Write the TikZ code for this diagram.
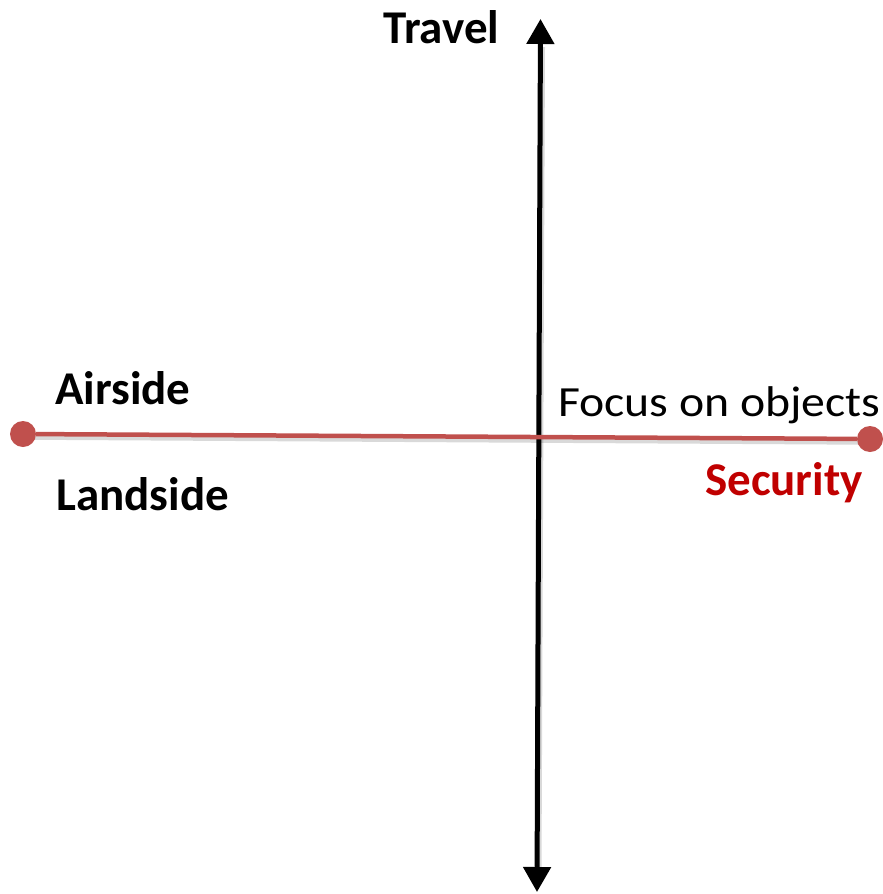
\documentclass[tikz,border=0pt]{standalone}
\usepackage{fontspec}
\setmainfont{Carlito}
\usetikzlibrary{arrows.meta}
\definecolor{axred}{HTML}{C0504D}
\definecolor{secred}{HTML}{C00000}
\tikzset{
  lbl/.style={anchor=base west, inner sep=0pt, font=\fontsize{47}{50}\selectfont\bfseries},
  dotend/.style={circle, fill=axred, inner sep=0pt, minimum size=26pt},
  shade/.style={black, opacity=0.15}
}
\begin{document}
\begin{tikzpicture}[x=1pt,y=-1pt]
\useasboundingbox (0,0) rectangle (883,894);
% vertical axis
\coordinate (top) at (540.5,19);
\coordinate (bot) at (537,892);
\draw[shade, line width=5pt, shift={(2,3)}] (537,868) -- (540.5,44);
\draw[line width=5pt, {Triangle[width=27pt,length=25pt]}-{Triangle[width=27pt,length=25pt]}] (bot) -- (top);
% horizontal axis
\draw[shade, line width=4.5pt] (25,437.5) -- (870,442.5);
\node[dotend] (L) at (23,434) {};
\node[dotend] (R) at (870,439) {};
\draw[axred, line width=4.5pt] (L) -- (R);
% labels
\node[lbl] (travel) at (383,43) {Travel};
\node[lbl] (airside) at (55,404) {Airside};
\node[lbl] (landside) at (56,510) {Landside};
\node[lbl, font=\fontsize{43}{46}\selectfont, xscale=1.11] (focus) at (558,416) {Focus on objects};
\node[lbl, text=secred] (security) at (705,495) {Security};
\end{tikzpicture}
\end{document}
